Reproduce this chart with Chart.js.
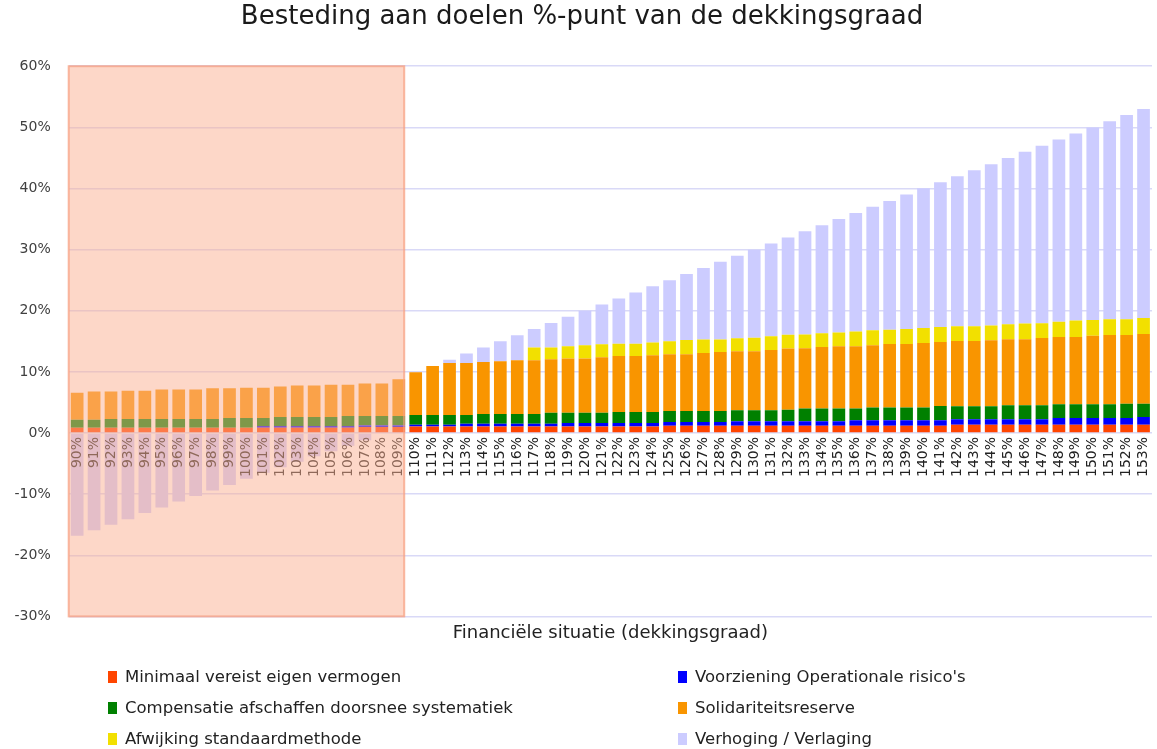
<!DOCTYPE html>
<html lang="nl">
<head>
<meta charset="utf-8">
<title>Besteding aan doelen %-punt van de dekkingsgraad</title>
<script src="https://cdn.jsdelivr.net/npm/chart.js@4.4.1/dist/chart.umd.min.js"></script>
<style>
  body { margin: 0; background: #fff; }
  #wrap { position: relative; width: 1157px; height: 749px; }
  #legend {
    position: absolute; left: 108px; top: 661px;
    display: grid; grid-template-columns: 570px auto; grid-auto-rows: 31px;
    font-family: "DejaVu Sans", sans-serif; font-size: 16.5px; color: #222;
  }
  #legend div { display: flex; align-items: center; }
  #legend span.sw { display: inline-block; width: 9px; height: 12px; margin-right: 8px; }
</style>
</head>
<body>
<div id="wrap">
  <canvas id="myChart"></canvas>
  <div id="legend"></div>
</div>
<script>
// categories (dekkingsgraad)
const categories = ['90%', '91%', '92%', '93%', '94%', '95%', '96%', '97%', '98%', '99%',
  '100%', '101%', '102%', '103%', '104%', '105%', '106%', '107%', '108%', '109%',
  '110%', '111%', '112%', '113%', '114%', '115%', '116%', '117%', '118%', '119%',
  '120%', '121%', '122%', '123%', '124%', '125%', '126%', '127%', '128%', '129%',
  '130%', '131%', '132%', '133%', '134%', '135%', '136%', '137%', '138%', '139%',
  '140%', '141%', '142%', '143%', '144%', '145%', '146%', '147%', '148%', '149%',
  '150%', '151%', '152%', '153%'];

// series values, %-punt
const minimaalVEV = [0.85, 0.85, 0.85, 0.85, 0.85, 0.85, 0.85, 0.85, 0.85, 0.85,
  0.85, 0.85, 0.85, 0.85, 0.85, 0.85, 0.85, 1.0, 1.0, 1.0,
  1.05, 1.05, 1.05, 1.05, 1.05, 1.05, 1.05, 1.05, 1.05, 1.05,
  1.05, 1.05, 1.05, 1.05, 1.05, 1.2, 1.2, 1.2, 1.2, 1.2,
  1.2, 1.2, 1.2, 1.2, 1.2, 1.2, 1.2, 1.2, 1.2, 1.2,
  1.2, 1.2, 1.35, 1.35, 1.35, 1.35, 1.35, 1.35, 1.35, 1.35,
  1.35, 1.35, 1.35, 1.35];
const operationeel = [0, 0, 0, 0, 0, 0, 0, 0, 0, 0,
  0, 0.3, 0.3, 0.3, 0.3, 0.3, 0.3, 0.25, 0.25, 0.25,
  0.3, 0.3, 0.3, 0.45, 0.45, 0.45, 0.45, 0.45, 0.45, 0.6,
  0.6, 0.6, 0.6, 0.6, 0.6, 0.6, 0.6, 0.6, 0.6, 0.72,
  0.72, 0.72, 0.72, 0.72, 0.72, 0.72, 0.9, 0.9, 0.9, 0.9,
  0.9, 0.9, 0.9, 0.9, 0.9, 0.9, 0.9, 0.9, 1.1, 1.1,
  1.1, 1.1, 1.1, 1.25];
const compensatie = [1.3, 1.3, 1.45, 1.45, 1.45, 1.45, 1.45, 1.45, 1.45, 1.6,
  1.6, 1.3, 1.45, 1.45, 1.45, 1.45, 1.65, 1.55, 1.55, 1.55,
  1.6, 1.6, 1.6, 1.45, 1.6, 1.6, 1.6, 1.6, 1.8, 1.65,
  1.65, 1.65, 1.8, 1.8, 1.8, 1.8, 1.8, 1.8, 1.8, 1.82,
  1.82, 1.82, 1.9, 2.08, 2.08, 2.08, 1.9, 2.07, 2.07, 2.07,
  2.07, 2.3, 2.13, 2.13, 2.13, 2.3, 2.3, 2.3, 2.24, 2.24,
  2.24, 2.24, 2.35, 2.2];
const solidariteit = [4.45, 4.65, 4.5, 4.6, 4.6, 4.8, 4.8, 4.8, 5.0, 4.85,
  4.95, 4.95, 5.0, 5.15, 5.15, 5.3, 5.1, 5.3, 5.3, 6.0,
  7.0, 8.0, 8.5, 8.5, 8.5, 8.65, 8.8, 8.8, 8.75, 8.9,
  8.9, 9.1, 9.15, 9.15, 9.25, 9.3, 9.3, 9.5, 9.65, 9.65,
  9.65, 9.85, 10.0, 9.85, 10.05, 10.2, 10.2, 10.2, 10.4, 10.4,
  10.55, 10.5, 10.65, 10.65, 10.8, 10.8, 10.8, 11.0, 11.0, 11.0,
  11.2, 11.35, 11.25, 11.4];
const afwijking = [0, 0, 0, 0, 0, 0, 0, 0, 0, 0,
  0, 0, 0, 0, 0, 0, 0, 0, 0, 0,
  0, 0, 0, 0, 0, 0, 0, 2.1, 1.95, 2.0,
  2.15, 2.1, 2.0, 2.0, 2.1, 2.1, 2.3, 2.2, 2.05, 2.1,
  2.2, 2.25, 2.25, 2.25, 2.25, 2.25, 2.4, 2.45, 2.3, 2.45,
  2.45, 2.45, 2.45, 2.45, 2.4, 2.45, 2.55, 2.4, 2.5, 2.7,
  2.6, 2.55, 2.55, 2.6];
const verhoging = [-16.8, -15.9, -15.0, -14.1, -13.1, -12.2, -11.2, -10.3, -9.4, -8.5,
  -7.5, -6.5, -5.6, -4.7, -3.8, -3.0, -2.1, -1.2, 0, 0,
  0, 0, 0.55, 1.55, 2.4, 3.25, 4.1, 3.0, 4.0, 4.8,
  5.65, 6.5, 7.4, 8.4, 9.2, 10.0, 10.8, 11.7, 12.7, 13.5,
  14.4, 15.15, 15.9, 16.9, 17.7, 18.55, 19.4, 20.2, 21.1, 22.0,
  22.85, 23.65, 24.5, 25.5, 26.4, 27.2, 28.1, 29.05, 29.8, 30.6,
  31.5, 32.4, 33.4, 34.2];

const seriesNames = ['Minimaal vereist eigen vermogen', "Voorziening Operationale risico's",
  'Compensatie afschaffen doorsnee systematiek', 'Solidariteitsreserve',
  'Afwijking standaardmethode', 'Verhoging / Verlaging'];
const seriesColors = ['#FF4500', '#0000FF', '#008000', '#F99500', '#F2E000', '#CCCCFF'];
const seriesValues = [minimaalVEV, operationeel, compensatie, solidariteit, afwijking, verhoging];

// y tick range
const yMin = -30, yMax = 60, yStep = 10;
// shaded range (onder 110%)
const shadeFrom = '90%', shadeTo = '109%';

const shadePlugin = {
  id: 'shade',
  afterDraw(chart) {
    const { ctx, chartArea, scales: { x } } = chart;
    const half = (x.getPixelForValue(1) - x.getPixelForValue(0)) / 2;
    const left = x.getPixelForValue(categories.indexOf(shadeFrom)) - half;
    const right = x.getPixelForValue(categories.indexOf(shadeTo)) + half - 3;
    ctx.save();
    ctx.fillStyle = 'rgba(251,176,146,0.5)';
    ctx.fillRect(left, chartArea.top, right - left, chartArea.bottom - chartArea.top);
    ctx.strokeStyle = 'rgba(247,160,130,0.75)';
    ctx.lineWidth = 2;
    ctx.strokeRect(left, chartArea.top, right - left, chartArea.bottom - chartArea.top);
    ctx.restore();
  }
};

const data = {
  labels: categories,
  datasets: seriesNames.map((name, i) => ({
    label: name,
    data: seriesValues[i],
    backgroundColor: seriesColors[i],
    borderWidth: 0,
    barPercentage: 0.75,
    categoryPercentage: 1.0
  }))
};

const config = {
  type: 'bar',
  data,
  options: {
    responsive: true,
    maintainAspectRatio: false,
    animation: false,
    layout: { padding: { left: 12, right: 5, top: 0, bottom: 105 } },
    plugins: {
      legend: { display: false },
      tooltip: { enabled: false },
      title: {
        display: true,
        text: 'Besteding aan doelen %-punt van de dekkingsgraad',
        color: '#1a1a1a',
        font: { family: 'DejaVu Sans', size: 26, weight: 'normal' },
        padding: { top: 2, bottom: 33 }
      }
    },
    scales: {
      x: {
        stacked: true,
        position: { y: 0 },
        grid: { display: false, drawTicks: false },
        border: { display: false },
        ticks: {
          z: 1,
          autoSkip: false, minRotation: 90, maxRotation: 90, padding: 4,
          color: '#222', font: { family: 'DejaVu Sans', size: 14 }
        },
        afterFit(s) { s.paddingLeft = 0; s.paddingRight = 0; }
      },
      x2: {
        axis: 'x',
        type: 'category',
        position: 'bottom',
        grid: { display: false, drawTicks: false },
        border: { display: false },
        ticks: { display: false },
        title: {
          display: true,
          text: 'Financiële situatie (dekkingsgraad)',
          color: '#222',
          font: { family: 'DejaVu Sans', size: 18 },
          padding: { top: 6, bottom: 0 }
        }
      },
      y: {
        stacked: true,
        min: yMin,
        max: yMax,
        grid: { color: '#D9D9F7', lineWidth: 1.5, drawTicks: false },
        border: { display: false },
        ticks: {
          stepSize: yStep, padding: 18, color: '#404040',
          font: { family: 'DejaVu Sans', size: 14 },
          callback: v => v + '%'
        },
        afterFit(s) { s.width = 56.7; }
      }
    }
  },
  plugins: [shadePlugin]
};

const myChart = new Chart(document.getElementById('myChart'), config);

// legend in two columns, built from the same series arrays
const legendEl = document.getElementById('legend');
seriesNames.forEach((name, i) => {
  const item = document.createElement('div');
  const sw = document.createElement('span');
  sw.className = 'sw';
  sw.style.background = seriesColors[i];
  item.appendChild(sw);
  item.appendChild(document.createTextNode(name));
  legendEl.appendChild(item);
});
</script>
</body>
</html>
